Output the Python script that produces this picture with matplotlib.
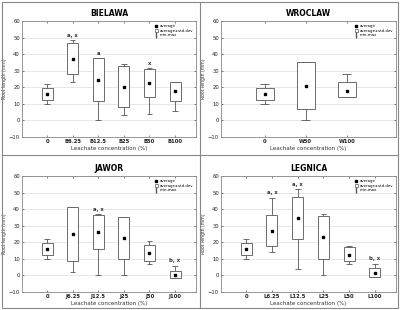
import matplotlib.pyplot as plt
from matplotlib.lines import Line2D
from matplotlib.patches import Patch, Rectangle

# data: mean, box (mean +- sd), min-max, significance letters
bielawa_cats = ["0", "B6.25", "B12.5", "B25", "B50", "B100"]
bielawa_mean = [16, 37, 24.5, 20, 22.5, 17.5]
bielawa_lo = [12.5, 28, 11.5, 8, 14, 12]
bielawa_hi = [19.5, 46.5, 37.5, 33, 31, 23]
bielawa_min = [10, 23, 0, 3, 4, 6]
bielawa_max = [22, 48.5, 37.5, 34, 31.5, 23]
bielawa_note = ["", "a, x", "a", "", "x", ""]

wroclaw_cats = ["0", "W50", "W100"]
wroclaw_mean = [16, 21, 18]
wroclaw_lo = [12.5, 7, 14]
wroclaw_hi = [19.5, 35, 23]
wroclaw_min = [10, 0, 14]
wroclaw_max = [22, 35, 28]
wroclaw_note = ["", "", ""]

jawor_cats = ["0", "J6.25", "J12.5", "J25", "J50", "J100"]
jawor_mean = [16, 25, 26, 22.5, 13.5, 0.5]
jawor_lo = [12.5, 9, 16, 10, 9, -1.5]
jawor_hi = [19.5, 41.5, 36.5, 35.5, 18.5, 2.5]
jawor_min = [10, 2, 0, 0, 7, -1.5]
jawor_max = [22, 41.5, 37, 35.5, 21, 6]
jawor_note = ["", "", "a, x", "", "", "b, x"]

legnica_cats = ["0", "L6.25", "L12.5", "L25", "L50", "L100"]
legnica_mean = [16, 27, 34.5, 23, 12.5, 1.5]
legnica_lo = [12.5, 17.5, 22, 10, 8.5, -1]
legnica_hi = [19.5, 36.5, 47.5, 36, 17, 4.5]
legnica_min = [10, 14, 4, 0, 7, -1]
legnica_max = [22, 47, 52, 37, 18, 7]
legnica_note = ["", "a, x", "a, x", "", "", "b, x"]

edge = "#555555"


def panel(ax, title, cats, mean, lo, hi, mn, mx, note, xlim):
    x = list(range(len(cats)))
    w = 0.43
    ax.vlines(x, hi, mx, color=edge, lw=0.6, zorder=2)
    ax.vlines(x, mn, lo, color=edge, lw=0.6, zorder=2)
    ax.hlines(mx, [i - 0.11 for i in x], [i + 0.11 for i in x], color=edge, lw=0.6, zorder=2)
    ax.hlines(mn, [i - 0.11 for i in x], [i + 0.11 for i in x], color=edge, lw=0.6, zorder=2)
    ax.bar(x, [h - l for h, l in zip(hi, lo)], bottom=lo, width=w,
           facecolor="white", edgecolor=edge, lw=0.6, zorder=3)
    ax.plot(x, mean, "s", color="black", ms=2, zorder=4)
    for i in x:
        if note[i]:
            ax.text(i, mx[i] + 1.5, note[i], ha="center", va="bottom",
                    fontsize=3.8, fontweight="bold", color="#333333")
    ax.set_xlim(*xlim)
    ax.set_ylim(-10, 60)
    ax.set_yticks(range(-10, 61, 10))
    ax.set_xticks(x)
    ax.set_xticklabels(cats, fontweight="bold")
    ax.tick_params(labelsize=3.8, length=1.5, width=0.4, colors="#222222",
                   top=True, right=True, direction="in", pad=1.5)
    ax.yaxis.grid(True, color="#dddddd", lw=0.5)
    ax.set_axisbelow(True)
    for s in ax.spines.values():
        s.set_color("#888888")
        s.set_linewidth(0.6)
    ax.set_title(title, fontsize=5.5, fontweight="bold", pad=4)
    ax.set_xlabel("Leachate concentration (%)", fontsize=4, labelpad=1.5, color="#333333")
    ax.set_ylabel("Root length (mm)", fontsize=3.3, labelpad=1, color="#333333")
    handles = [
        Line2D([], [], marker="s", color="black", ls="None", ms=2),
        Patch(facecolor="white", edgecolor=edge, lw=0.5),
        Line2D([], [], marker="|", color=edge, ls="None", ms=5),
    ]
    ax.legend(handles, ["average", "average±std.dev", "min-max"], loc="upper right",
              fontsize=2.8, frameon=False, handlelength=0.8, handleheight=0.8,
              labelspacing=0.1, borderaxespad=0.4, handletextpad=0.4)


fig = plt.figure(figsize=(4, 3.1), dpi=100)

ax1 = fig.add_axes([0.055, 0.558, 0.435, 0.374])
ax2 = fig.add_axes([0.5525, 0.558, 0.4375, 0.374])
ax3 = fig.add_axes([0.055, 0.058, 0.435, 0.374])
ax4 = fig.add_axes([0.5525, 0.058, 0.4375, 0.374])

panel(ax1, "BIELAWA", bielawa_cats, bielawa_mean, bielawa_lo, bielawa_hi,
      bielawa_min, bielawa_max, bielawa_note, (-0.98, 5.82))
panel(ax2, "WROCLAW", wroclaw_cats, wroclaw_mean, wroclaw_lo, wroclaw_hi,
      wroclaw_min, wroclaw_max, wroclaw_note, (-1.07, 3.2))
panel(ax3, "JAWOR", jawor_cats, jawor_mean, jawor_lo, jawor_hi,
      jawor_min, jawor_max, jawor_note, (-0.98, 5.82))
panel(ax4, "LEGNICA", legnica_cats, legnica_mean, legnica_lo, legnica_hi,
      legnica_min, legnica_max, legnica_note, (-0.98, 5.82))

# panel frames
fig.add_artist(Rectangle((0.004, 0.006), 0.992, 0.988, transform=fig.transFigure,
                         fill=False, ec="#888888", lw=0.8))
fig.add_artist(Line2D([0.5, 0.5], [0.006, 0.994], transform=fig.transFigure,
                      color="#888888", lw=0.8))
fig.add_artist(Line2D([0.004, 0.996], [0.5, 0.5], transform=fig.transFigure,
                      color="#888888", lw=0.8))

fig.savefig("out.png", dpi=100)
